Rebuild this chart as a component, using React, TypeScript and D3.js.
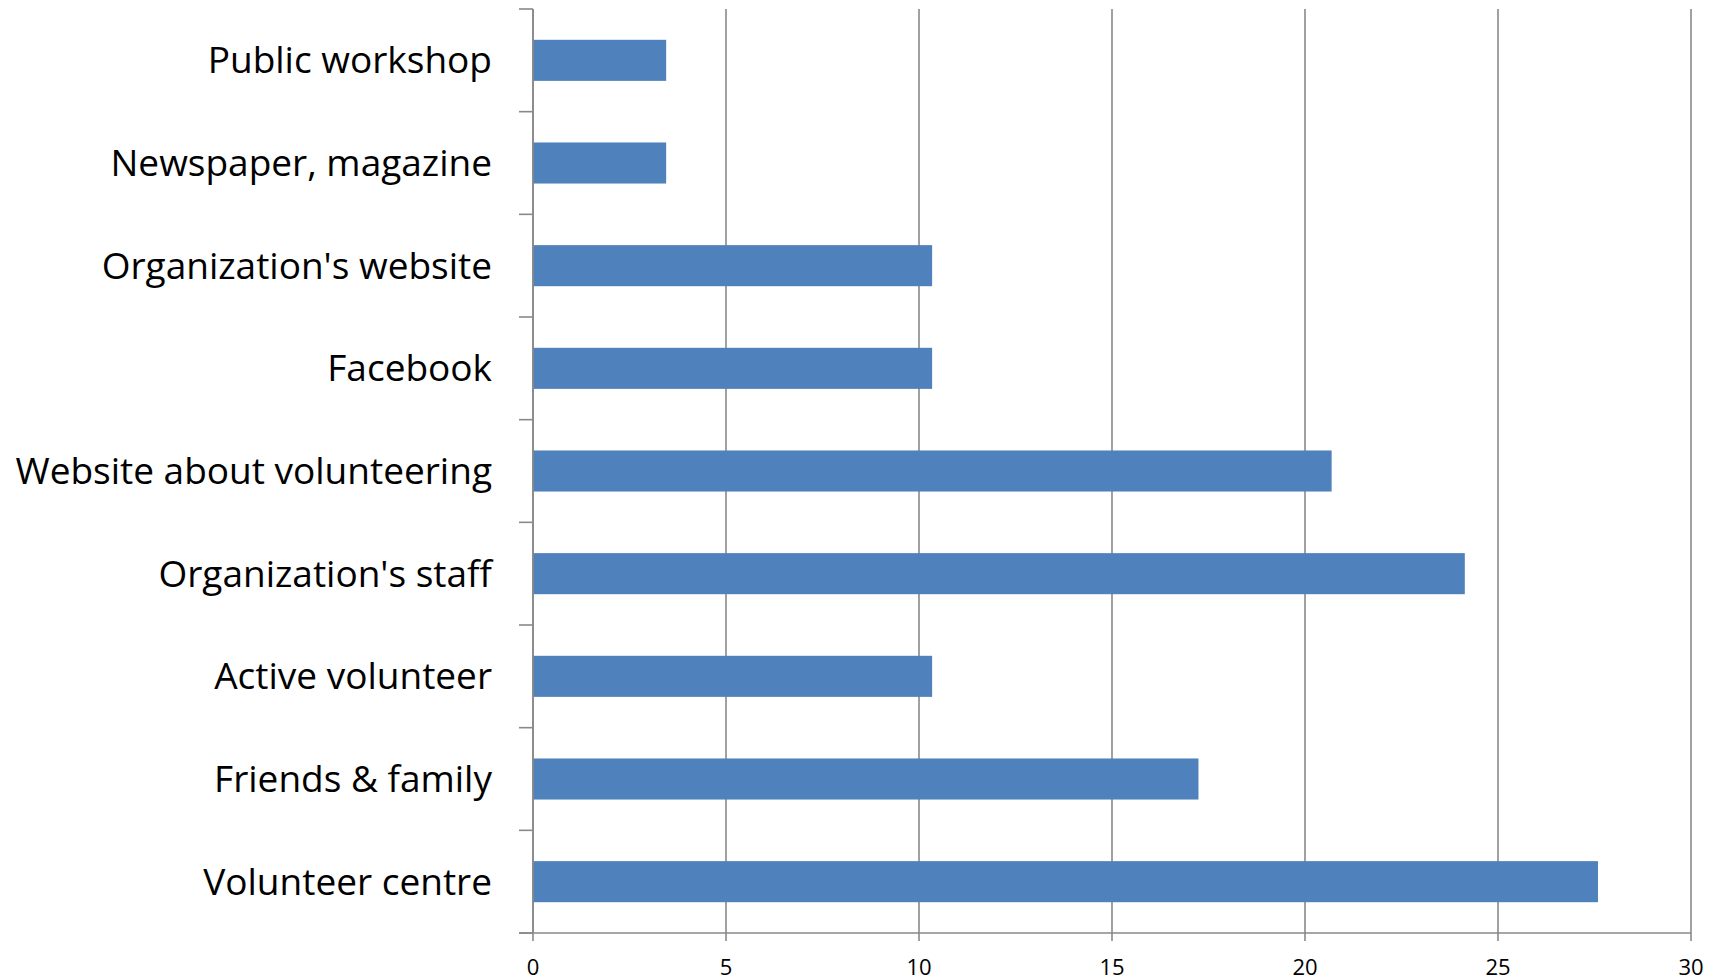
import { useEffect, useRef } from 'react';
import * as d3 from 'd3';

const categories = [
  'Public workshop',
  'Newspaper, magazine',
  "Organization's website",
  'Facebook',
  'Website about volunteering',
  "Organization's staff",
  'Active volunteer',
  'Friends & family',
  'Volunteer centre',
];
const values = [3.45, 3.45, 10.34, 10.34, 20.69, 24.14, 10.34, 17.24, 27.59];
const xTicks = [0, 5, 10, 15, 20, 25, 30];

export default function App() {
  const svgRef = useRef<SVGSVGElement>(null);

  useEffect(() => {
    if (!svgRef.current) return;
    const W = 1723;
    const H = 980;
    const left = 533, right = 1691, top = 9, bottom = 933;

    const svg = d3.select(svgRef.current);
    svg.selectAll('*').remove();
    svg.attr('width', W).attr('height', H);

    const x = d3.scaleLinear().domain([0, 30]).range([left, right]);
    const y = d3.scaleBand().domain(categories).range([top, bottom]).paddingInner(0.6).paddingOuter(0.3);
    const step = (bottom - top) / categories.length;
    const gridColor = '#898989';

    // vertical gridlines
    svg.append('g')
      .selectAll('line')
      .data(xTicks)
      .enter()
      .append('line')
      .attr('x1', d => x(d))
      .attr('x2', d => x(d))
      .attr('y1', top)
      .attr('y2', bottom + 8)
      .attr('stroke', gridColor)
      .attr('stroke-width', 1.6);

    // bars
    svg.append('g')
      .selectAll('rect')
      .data(categories)
      .enter()
      .append('rect')
      .attr('x', x(0))
      .attr('y', d => y(d) as number)
      .attr('width', (_, i) => x(values[i]) - x(0))
      .attr('height', y.bandwidth())
      .attr('fill', '#4F81BD');

    // y axis line and ticks
    svg.append('line')
      .attr('x1', left).attr('x2', left)
      .attr('y1', top).attr('y2', bottom)
      .attr('stroke', gridColor).attr('stroke-width', 1.6);
    svg.append('g')
      .selectAll('line')
      .data(d3.range(categories.length + 1))
      .enter()
      .append('line')
      .attr('x1', left - 14)
      .attr('x2', left)
      .attr('y1', i => top + i * step)
      .attr('y2', i => top + i * step)
      .attr('stroke', gridColor)
      .attr('stroke-width', 1.6);

    // x axis line
    svg.append('line')
      .attr('x1', left - 14).attr('x2', right)
      .attr('y1', bottom).attr('y2', bottom)
      .attr('stroke', gridColor).attr('stroke-width', 1.6);

    // category labels
    svg.append('g')
      .selectAll('text')
      .data(categories)
      .enter()
      .append('text')
      .attr('x', 492)
      .attr('y', d => (y(d) as number) + y.bandwidth() / 2)
      .attr('dy', '0.35em')
      .attr('text-anchor', 'end')
      .style('font-family', "'Open Sans', sans-serif")
      .style('font-size', '37px')
      .style('fill', '#000')
      .text(d => d);

    // x tick labels
    svg.append('g')
      .selectAll('text')
      .data(xTicks)
      .enter()
      .append('text')
      .attr('x', d => x(d))
      .attr('y', 975)
      .attr('text-anchor', 'middle')
      .style('font-family', "'Open Sans', sans-serif")
      .style('font-size', '22px')
      .style('fill', '#000')
      .text(d => String(d));
  }, []);

  return (
    <svg
      ref={svgRef}
      style={{ position: 'absolute', left: 0, top: 0, display: 'block', background: '#fff' }}
    />
  );
}
